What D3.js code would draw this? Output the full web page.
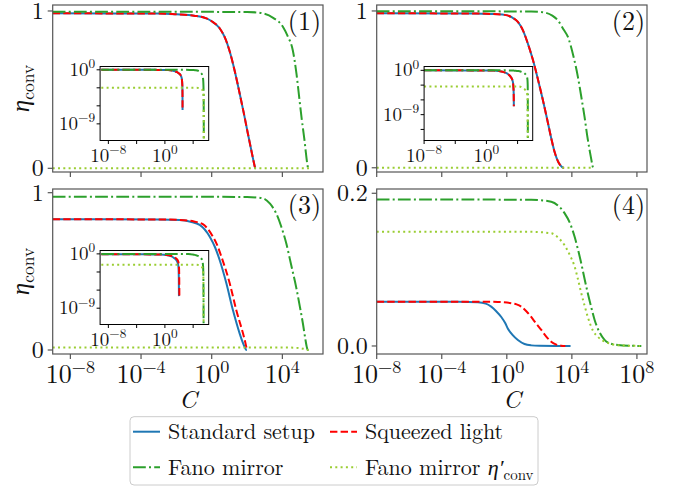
<!DOCTYPE html>
<html><head><meta charset="utf-8">
<script src="https://cdn.jsdelivr.net/npm/d3@7"></script>
<style>html,body{margin:0;padding:0;background:#fff;} svg{display:block;}</style>
</head><body>
<script>
// ---------------- data: [log10(C), eta_conv] ----------------
// Panel (1)
const p1Standard = [[-9,0.985],[-3,0.984],[-2,0.979],[-1,0.97],[-0.3,0.953],[0,0.935],[0.45,0.89],[0.75,0.83],[1.0,0.75],[1.3,0.62],[1.58,0.477],[1.8,0.36],[2.05,0.22],[2.25,0.11],[2.38,0.04],[2.44,0.01],[2.47,0.002],[2.49,1e-4],[2.5,2e-7]];
const p1Squeezed = [[-9,0.985],[-3,0.984],[-2,0.979],[-1,0.97],[-0.3,0.953],[0,0.935],[0.45,0.89],[0.75,0.83],[1.0,0.75],[1.3,0.62],[1.58,0.477],[1.8,0.36],[2.05,0.22],[2.25,0.11],[2.38,0.04],[2.44,0.01],[2.47,0.002],[2.49,1e-4],[2.5,2e-7]];
const p1Fano = [[-9,0.995],[2,0.994],[2.9,0.985],[3.5,0.955],[4.03,0.9],[4.3,0.84],[4.59,0.75],[4.8,0.6],[4.97,0.434],[5.1,0.31],[5.25,0.18],[5.35,0.08],[5.42,0.02],[5.46,0.002],[5.48,1e-4],[5.5,1e-8],[5.51,1e-14]];
const p1FanoPrime = [[-9,0.001],[4,0.001],[4.7,0.00098],[5.0,0.0008],[5.2,0.0006],[5.4,0.0003],[5.48,5e-5],[5.5,1e-9],[5.51,1e-14]];
// Panel (2)
const p2Standard = [[-8,0.985],[-2,0.984],[-1,0.981],[-0.14,0.975],[0.3,0.96],[0.68,0.93],[1.0,0.875],[1.3,0.79],[1.6,0.69],[1.9,0.57],[2.2,0.44],[2.5,0.3],[2.75,0.18],[2.94,0.1],[3.15,0.04],[3.3,0.015],[3.4,0.004],[3.45,0.0008],[3.5,2e-5],[3.52,5e-8]];
const p2Squeezed = [[-8,0.985],[-2,0.984],[-1,0.981],[-0.14,0.975],[0.3,0.96],[0.68,0.93],[1.0,0.875],[1.3,0.79],[1.6,0.69],[1.9,0.57],[2.2,0.44],[2.5,0.3],[2.75,0.18],[2.94,0.1],[3.15,0.04],[3.3,0.015],[3.4,0.004],[3.45,0.0008],[3.5,2e-5],[3.52,5e-8]];
const p2Fano = [[-8,0.998],[1.5,0.997],[2.32,0.99],[2.8,0.97],[3.14,0.94],[3.5,0.88],[3.75,0.836],[4.1,0.71],[4.37,0.58],[4.6,0.44],[4.78,0.325],[4.95,0.2],[5.09,0.113],[5.2,0.05],[5.27,0.012],[5.3,0.001],[5.31,1e-6],[5.32,1e-16]];
const p2FanoPrime = [[-8,5.4e-4],[4.2,5.3e-4],[4.6,3e-4],[5.0,1e-4],[5.2,3e-5],[5.28,1e-6],[5.3,1e-16]];
// Panel (3)
const p3Standard = [[-9,0.831],[-3,0.83],[-1.8,0.826],[-1.2,0.815],[-0.68,0.795],[-0.11,0.72],[0.2,0.65],[0.45,0.572],[0.83,0.424],[1.2,0.254],[1.58,0.106],[1.75,0.05],[1.88,0.015],[1.94,0.003],[1.97,1e-4],[1.99,1e-7]];
const p3Squeezed = [[-9,0.831],[-3,0.83],[-1.8,0.827],[-1,0.817],[-0.5,0.8],[0.07,0.72],[0.3,0.67],[0.55,0.593],[1.02,0.424],[1.39,0.254],[1.77,0.106],[1.9,0.05],[1.97,0.015],[2.01,0.003],[2.03,1e-4],[2.05,1e-7]];
const p3Fano = [[-9,0.975],[2,0.973],[2.9,0.964],[3.3,0.93],[3.65,0.869],[3.95,0.78],[4.22,0.678],[4.5,0.54],[4.78,0.4],[5.0,0.27],[5.16,0.17],[5.3,0.07],[5.38,0.02],[5.42,0.004],[5.45,1e-4],[5.47,1e-8],[5.48,1e-14]];
const p3FanoPrime = [[-9,0.016],[4.2,0.0158],[4.8,0.014],[5.1,0.01],[5.3,0.005],[5.42,0.001],[5.46,1e-5],[5.48,1e-14]];
// Panel (4)
const p4Standard = [[-8,0.058],[-3,0.0578],[-1.78,0.0572],[-1.3,0.0555],[-0.96,0.0515],[-0.65,0.0455],[-0.34,0.038],[-0.1,0.03],[0.06,0.023],[0.35,0.0145],[0.68,0.0079],[1.09,0.0026],[1.5,0.0008],[2.0,0.0002],[3.0,0.00003],[3.92,0.0]];
const p4Squeezed = [[-8,0.058],[-1,0.0579],[-0.55,0.0577],[0.27,0.056],[0.6,0.0545],[0.89,0.0515],[1.2,0.0455],[1.5,0.038],[1.8,0.0295],[2.12,0.021],[2.4,0.013],[2.73,0.0056],[3.05,0.0018],[3.35,0.0004],[3.6,0.0001]];
const p4Fano = [[-8,0.192],[1.5,0.1915],[2.73,0.189],[3.2,0.183],[3.55,0.174],[3.9,0.16],[4.17,0.143],[4.38,0.126],[4.58,0.108],[4.78,0.088],[4.98,0.069],[5.2,0.05],[5.4,0.034],[5.7,0.018],[6.01,0.008],[6.4,0.003],[6.83,0.0013],[7.5,0.0003],[8.27,0.0001]];
const p4FanoPrime = [[-8,0.1497],[1.5,0.1495],[2.73,0.1476],[3.2,0.141],[3.55,0.132],[3.9,0.118],[4.17,0.104],[4.38,0.087],[4.58,0.069],[4.78,0.053],[4.98,0.038],[5.3,0.02],[5.6,0.012],[6.0,0.006],[6.42,0.0026],[7.0,0.0008],[8.2,0.0001]];

const seriesNames = ["Standard setup","Squeezed light","Fano mirror","Fano mirror η′conv"];
const mainXTicksA = [-8,-4,0,4];
const mainXTicksB = [-8,-4,0,4,8];
const insetXTicks = [-8,-4,0,4];
const insetXLabelled = [-8,0];
const insetYTicks = [0,-3,-6,-9,-12];
const insetYLabelled = [0,-9];

// ---------------- style ----------------
const FONT = "'Latin Modern Roman'";
const styles = [
  {key:"standard", color:"#1f77b4", dash:null},
  {key:"squeezed", color:"#ff0000", dash:"7.4,3.2"},
  {key:"fano", color:"#2ca02c", dash:"12.8,3.2,2,3.2"},
  {key:"fanoPrime", color:"#9acd32", dash:"2,3.3"}
];
const SPINE = "#555";

const svg = d3.select("body").append("svg").attr("width",690).attr("height",492);
const defs = svg.append("defs");
let clipId = 0;

function txt(g){ return g.append("text").style("font-family",FONT).attr("fill","#111"); }

function powLabel(sel, exp, size){
  sel.append("tspan").style("font-family",FONT).text("10");
  sel.append("tspan").style("font-family",FONT).attr("font-size",size*0.7).attr("dy",-size*0.4)
     .text(exp<0 ? "\u2212"+(-exp) : String(exp));
}

function drawLines(g, xs, ys, data, clip, yLog){
  styles.forEach((s,i)=>{
    const pts = data[i];
    const line = d3.line()
      .x(d=>xs(Math.pow(10,d[0])))
      .y(d=>ys(yLog ? Math.max(d[1],1e-30) : d[1]))
      .curve(d3.curveMonotoneX);
    const p = g.append("path").attr("d",line(pts)).attr("fill","none")
      .attr("stroke",s.color).attr("stroke-width",2).attr("clip-path",`url(#${clip})`);
    if(s.dash) p.attr("stroke-dasharray",s.dash);
  });
}

function makeClip(x,y,w,h){
  const id = "clip"+(clipId++);
  defs.append("clipPath").attr("id",id).append("rect").attr("x",x).attr("y",y).attr("width",w).attr("height",h);
  return id;
}

const panels = [
  {box:[52.7,5,323,172], xDom:[-9,6.3], yDom:[-0.0235,1.038], yTicks:[0,1], yFmt:d=>String(d), xTicks:mainXTicksA, xLab:false, label:"(1)",
   data:[p1Standard,p1Squeezed,p1Fano,p1FanoPrime], inset:{xDom:[-9.17,6.2], yDom:[-11.77,0.55]}, ylabel:true},
  {box:[376.7,5,647,172], xDom:[-8,8.62], yDom:[-0.027,1.038], yTicks:[0,1], yFmt:d=>String(d), xTicks:mainXTicksB, xLab:false, label:"(2)",
   data:[p2Standard,p2Squeezed,p2Fano,p2FanoPrime], inset:{xDom:[-8,5.94], yDom:[-14.25,0.78]}, ylabel:false},
  {box:[52.7,189,323,354], xDom:[-9,6.3], yDom:[-0.0254,1.0235], yTicks:[0,1], yFmt:d=>String(d), xTicks:mainXTicksA, xLab:true, label:"(3)",
   data:[p3Standard,p3Squeezed,p3Fano,p3FanoPrime], inset:{xDom:[-9.17,6.2], yDom:[-11.7,0.56]}, ylabel:true},
  {box:[376.7,189,647,354], xDom:[-8,8.62], yDom:[-0.0105,0.2056], yTicks:[0,0.2], yFmt:d=>d.toFixed(1), xTicks:mainXTicksB, xLab:true, label:"(4)",
   data:[p4Standard,p4Squeezed,p4Fano,p4FanoPrime], inset:null, ylabel:false}
];

panels.forEach(P=>{
  const [x0,y0,x1,y1] = P.box;
  const xs = d3.scaleLog().domain([Math.pow(10,P.xDom[0]),Math.pow(10,P.xDom[1])]).range([x0,x1]);
  const ys = d3.scaleLinear().domain(P.yDom).range([y1,y0]);
  const g = svg.append("g");
  const clip = makeClip(x0,y0,x1-x0,y1-y0);
  drawLines(g, xs, ys, P.data, clip, false);
  g.append("rect").attr("x",x0).attr("y",y0).attr("width",x1-x0).attr("height",y1-y0)
    .attr("fill","none").attr("stroke",SPINE).attr("stroke-width",1.2);
  P.xTicks.forEach(e=>{
    const x = xs(Math.pow(10,e));
    g.append("line").attr("x1",x).attr("x2",x).attr("y1",y1).attr("y2",y1+5).attr("stroke",SPINE).attr("stroke-width",1.2);
    if(P.xLab){
      const t = txt(g).attr("x",x).attr("y",y1+29).attr("text-anchor","middle").attr("font-size",26);
      powLabel(t,e,26);
    }
  });
  P.yTicks.forEach(v=>{
    const y = ys(v);
    g.append("line").attr("x1",x0-5).attr("x2",x0).attr("y1",y).attr("y2",y).attr("stroke",SPINE).attr("stroke-width",1.2);
    txt(g).attr("x",x0-9).attr("y",y+8).attr("text-anchor","end").attr("font-size",24).text(P.yFmt(v));
  });
  txt(g).attr("x",x1-2).attr("y",y0+25).attr("text-anchor","end").attr("font-size",26).text(P.label);
  if(P.xLab){
    txt(g).attr("x",(x0+x1)/2).attr("y",y1+54).attr("text-anchor","middle").attr("font-size",25)
      .attr("font-style","italic").text("C");
  }
  if(P.ylabel){
    const t = txt(g).attr("transform",`translate(29,${(y0+y1)/2}) rotate(-90)`).attr("text-anchor","middle")
      .attr("font-size",25);
    t.append("tspan").style("font-family",FONT).attr("font-style","italic").text("η");
    t.append("tspan").style("font-family",FONT).attr("font-size",17.5).attr("dy",5).text("conv");
  }
  if(P.inset){
    const ix0 = x0+47.4, ix1 = ix0+108.6, iy0 = y0+61.5, iy1 = iy0+74;
    const ixs = d3.scaleLog().domain([Math.pow(10,P.inset.xDom[0]),Math.pow(10,P.inset.xDom[1])]).range([ix0,ix1]);
    const iys = d3.scaleLog().domain([Math.pow(10,P.inset.yDom[0]),Math.pow(10,P.inset.yDom[1])]).range([iy1,iy0]);
    const ig = svg.append("g");
    ig.append("rect").attr("x",ix0).attr("y",iy0).attr("width",ix1-ix0).attr("height",iy1-iy0).attr("fill","#fff");
    const iclip = makeClip(ix0,iy0,ix1-ix0,iy1-iy0);
    drawLines(ig, ixs, iys, P.data, iclip, true);
    ig.append("rect").attr("x",ix0).attr("y",iy0).attr("width",ix1-ix0).attr("height",iy1-iy0)
      .attr("fill","none").attr("stroke","#000").attr("stroke-width",1);
    insetXTicks.forEach(e=>{
      const x = ixs(Math.pow(10,e));
      if(x<ix0-0.5||x>ix1+0.5) return;
      ig.append("line").attr("x1",x).attr("x2",x).attr("y1",iy1).attr("y2",iy1+3.5).attr("stroke","#000");
      if(insetXLabelled.includes(e)){
        const t = txt(ig).attr("x",x).attr("y",iy1+21).attr("text-anchor","middle").attr("font-size",19);
        powLabel(t,e,19);
      }
    });
    insetYTicks.forEach(e=>{
      const y = iys(Math.pow(10,e));
      if(y<iy0-0.5||y>iy1+0.5) return;
      ig.append("line").attr("x1",ix0-3.5).attr("x2",ix0).attr("y1",y).attr("y2",y).attr("stroke","#000");
      if(insetYLabelled.includes(e)){
        const t = txt(ig).attr("x",ix0-5).attr("y",y+6).attr("text-anchor","end").attr("font-size",19);
        powLabel(t,e,19);
      }
    });
  }
});

// ---------------- legend ----------------
const lg = svg.append("g");
lg.append("rect").attr("x",130).attr("y",416.7).attr("width",408).attr("height",68.3).attr("rx",4)
  .attr("fill","#fff").attr("fill-opacity",0.8).attr("stroke","#cccccc").attr("stroke-width",1);
const legPos = [[133,431.7],[330,431.7],[133,467.3],[330,467.3]];
styles.forEach((s,i)=>{
  const [lx,ly] = legPos[i];
  const l = lg.append("line").attr("x1",lx).attr("x2",lx+27).attr("y1",ly).attr("y2",ly)
    .attr("stroke",s.color).attr("stroke-width",2);
  if(s.dash) l.attr("stroke-dasharray",s.dash);
  const t = txt(lg).attr("x",lx+35).attr("y",ly+7.7).attr("font-size",22);
  if(i===3){
    t.append("tspan").style("font-family",FONT).text("Fano mirror ");
    t.append("tspan").style("font-family",FONT).attr("font-style","italic").text("η′");
    t.append("tspan").style("font-family",FONT).attr("font-size",15).attr("dy",5).text("conv");
  } else {
    t.text(seriesNames[i]);
  }
});
</script>
</body></html>
